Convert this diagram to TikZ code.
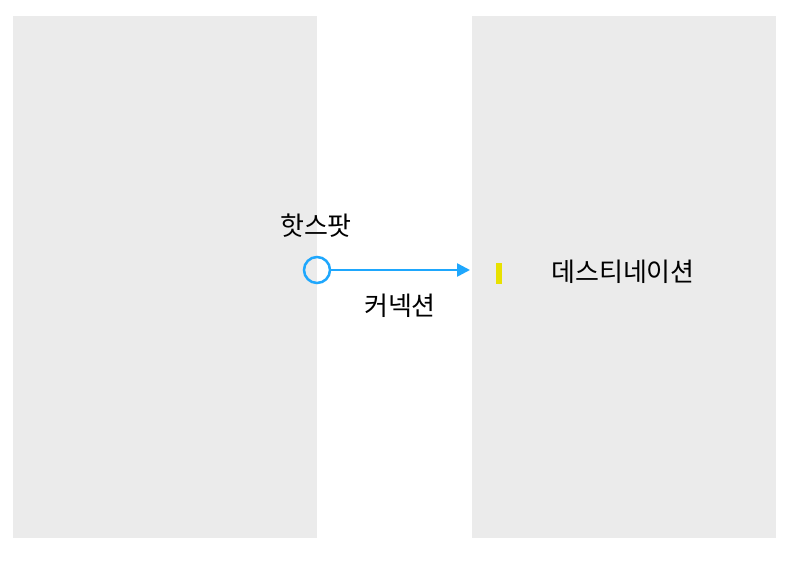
\documentclass[tikz,border=0pt]{standalone}
\usepackage{fontspec}
\newfontfamily\kr{Noto Sans CJK KR}
\usetikzlibrary{arrows.meta}
\definecolor{panelgray}{HTML}{EBEBEB}
\definecolor{hotblue}{HTML}{1EA7FD}
\definecolor{markyellow}{HTML}{E8E100}
\begin{document}
\begin{tikzpicture}[x=1pt,y=-1pt,
  lbl/.style={font=\kr\fontsize{26}{30}\selectfont,inner sep=0pt,text=black}]
\useasboundingbox[fill=white] (0,0) rectangle (799,568);
\fill[panelgray] (13,16) rectangle (317,538);
\fill[panelgray] (472,16) rectangle (776,538);
\node[draw=hotblue,line width=2.5pt,circle,minimum size=26pt,inner sep=0pt,fill=none] (hot) at (317,270) {};
\coordinate (dst) at (470,270);
\draw[hotblue,line width=2.5pt,-{Triangle[length=13pt,width=13pt]}] (hot.east) -- (dst);
\fill[markyellow] (496,263) rectangle (502,284);
\node[lbl] (hl) at (316,226) {핫스팟};
\node[lbl] (cl) at (400,306) {커넥션};
\node[lbl] (dl) at (623,272) {데스티네이션};
\end{tikzpicture}
\end{document}
